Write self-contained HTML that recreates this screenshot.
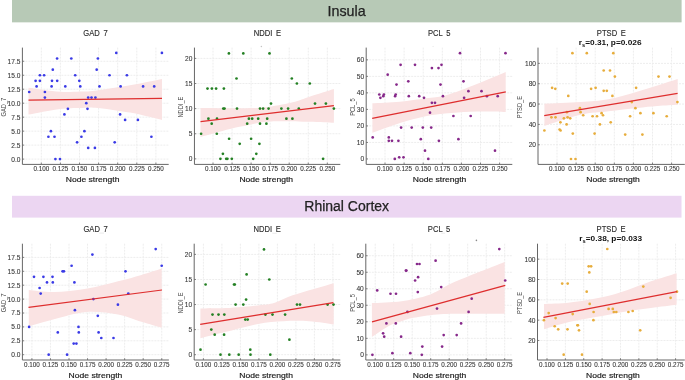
<!DOCTYPE html>
<html><head><meta charset="utf-8"><title>Node strength correlations</title>
<style>
html,body{margin:0;padding:0;background:#fff;width:685px;height:380px;overflow:hidden}
svg{display:block;will-change:transform}
text{font-family:"Liberation Sans", sans-serif}
</style></head><body>
<svg width="685" height="380" viewBox="0 0 685 380">
<rect x="12" y="0" width="669.6" height="22.35" fill="#b7c9b6"/>
<text transform="translate(346.6,15.8) scale(1,1)" text-anchor="middle" font-size="14.3" fill="#222" stroke="#222" stroke-width="0.25">Insula</text>
<rect x="12" y="195.8" width="669.5" height="21.8" fill="#ecd6f2"/>
<text transform="translate(346.7,211.1) scale(1,1)" text-anchor="middle" font-size="14" fill="#222" stroke="#222" stroke-width="0.25">Rhinal Cortex</text>
<path d="M41.3,47.6V164.4M60.4,47.6V164.4M79.5,47.6V164.4M98.6,47.6V164.4M117.7,47.6V164.4M136.8,47.6V164.4M155.9,47.6V164.4M22.4,159.1H168.7M22.4,145.12H168.7M22.4,131.15H168.7M22.4,117.17H168.7M22.4,103.2H168.7M22.4,89.22H168.7M22.4,75.25H168.7M22.4,61.27H168.7" stroke="#ededed" stroke-width="1.0" stroke-dasharray="2,1" fill="none"/>
<path d="M28.5,87.7 C33.75,88.38 51.42,91.17 60,91.8 C68.58,92.43 74.17,91.68 80,91.5 C85.83,91.32 86.67,91.73 95,90.7 C103.33,89.67 118.83,87.27 130,85.3 C141.17,83.33 156.67,79.97 162,78.9 L162,120 C156.67,118.77 141.17,114.65 130,112.6 C118.83,110.55 103.33,108.47 95,107.7 C86.67,106.93 85.83,107.78 80,108 C74.17,108.22 68.58,107.9 60,109 C51.42,110.1 33.75,113.67 28.5,114.6 Z" fill="#fae3e3"/>
<g fill="#3a3ae6"><circle cx="29.2" cy="92.02" r="1.35"/><circle cx="35.6" cy="80.84" r="1.35"/><circle cx="36.6" cy="86.43" r="1.35"/><circle cx="39.9" cy="75.25" r="1.35"/><circle cx="39.9" cy="80.84" r="1.35"/><circle cx="44.1" cy="75.25" r="1.35"/><circle cx="44.9" cy="92.02" r="1.35"/><circle cx="44.9" cy="97.61" r="1.35"/><circle cx="51.6" cy="86.43" r="1.35"/><circle cx="52" cy="80.84" r="1.35"/><circle cx="52.8" cy="69.66" r="1.35"/><circle cx="57.1" cy="58.48" r="1.35"/><circle cx="57.2" cy="80.84" r="1.35"/><circle cx="65.3" cy="86.43" r="1.35"/><circle cx="71.3" cy="58.48" r="1.35"/><circle cx="75.2" cy="75.25" r="1.35"/><circle cx="79.3" cy="80.84" r="1.35"/><circle cx="80.3" cy="86.43" r="1.35"/><circle cx="86.3" cy="103.2" r="1.35"/><circle cx="88.2" cy="97.61" r="1.35"/><circle cx="91.5" cy="97.61" r="1.35"/><circle cx="95.4" cy="97.61" r="1.35"/><circle cx="96.7" cy="69.66" r="1.35"/><circle cx="97.9" cy="58.48" r="1.35"/><circle cx="99.5" cy="86.43" r="1.35"/><circle cx="116.3" cy="52.89" r="1.35"/><circle cx="109.5" cy="75.25" r="1.35"/><circle cx="126.9" cy="75.25" r="1.35"/><circle cx="120.6" cy="86.43" r="1.35"/><circle cx="143.1" cy="86.43" r="1.35"/><circle cx="154.2" cy="86.43" r="1.35"/><circle cx="161.9" cy="52.89" r="1.35"/><circle cx="87.5" cy="108.79" r="1.35"/><circle cx="67.9" cy="108.79" r="1.35"/><circle cx="64.4" cy="114.38" r="1.35"/><circle cx="50.9" cy="131.15" r="1.35"/><circle cx="48.4" cy="136.74" r="1.35"/><circle cx="54.5" cy="136.74" r="1.35"/><circle cx="84.4" cy="131.15" r="1.35"/><circle cx="81.4" cy="136.74" r="1.35"/><circle cx="77.1" cy="142.33" r="1.35"/><circle cx="88.2" cy="147.92" r="1.35"/><circle cx="94.9" cy="147.92" r="1.35"/><circle cx="55.4" cy="159.1" r="1.35"/><circle cx="60" cy="159.1" r="1.35"/><circle cx="120.1" cy="114.38" r="1.35"/><circle cx="125.1" cy="119.97" r="1.35"/><circle cx="137.9" cy="119.97" r="1.35"/><circle cx="114.7" cy="142.33" r="1.35"/><circle cx="151.4" cy="136.74" r="1.35"/></g>
<path d="M28.5,100.1L162,98.3" stroke="#de2e2e" stroke-width="1.25" fill="none"/>
<path d="M22.4,47.6V164.4H168.7" stroke="#666" stroke-width="1.0" fill="none"/>
<path d="M41.3,164.4v-1.8M60.4,164.4v-1.8M79.5,164.4v-1.8M98.6,164.4v-1.8M117.7,164.4v-1.8M136.8,164.4v-1.8M155.9,164.4v-1.8M22.4,159.1h1.8M22.4,145.12h1.8M22.4,131.15h1.8M22.4,117.17h1.8M22.4,103.2h1.8M22.4,89.22h1.8M22.4,75.25h1.8M22.4,61.27h1.8" stroke="#666" stroke-width="0.8" fill="none"/>
<g font-size="6.3" fill="#333" stroke="#333" stroke-width="0.08" text-anchor="middle"><text x="41.3" y="170.7">0.100</text><text x="60.4" y="170.7">0.125</text><text x="79.5" y="170.7">0.150</text><text x="98.6" y="170.7">0.175</text><text x="117.7" y="170.7">0.200</text><text x="136.8" y="170.7">0.225</text><text x="155.9" y="170.7">0.250</text></g>
<g font-size="6.6" fill="#333" stroke="#333" stroke-width="0.08" text-anchor="end"><text x="20.4" y="161.55">0.0</text><text x="20.4" y="147.57">2.5</text><text x="20.4" y="133.6">5.0</text><text x="20.4" y="119.62">7.5</text><text x="20.4" y="105.65">10.0</text><text x="20.4" y="91.67">12.5</text><text x="20.4" y="77.7">15.0</text><text x="20.4" y="63.72">17.5</text></g>
<text transform="translate(92.6,182.1) scale(1.07,1)" text-anchor="middle" font-size="8.0" fill="#1a1a1a" stroke="#1a1a1a" stroke-width="0.18">Node strength</text>
<text transform="translate(95.55,35.6) scale(0.93,1)" text-anchor="middle" font-size="8.2" fill="#2a2a2a" stroke="#2a2a2a" stroke-width="0.12" word-spacing="-0.3" style="white-space:pre">GAD  7</text>
<text transform="translate(5.9,107.1) rotate(-90) scale(0.82,1)" text-anchor="middle" font-size="7.0" fill="#444">GAD_7</text>
<path d="M213,47.6V164.4M232.05,47.6V164.4M251.1,47.6V164.4M270.15,47.6V164.4M289.2,47.6V164.4M308.25,47.6V164.4M327.3,47.6V164.4M194.45,158.85H340.3M194.45,133.74H340.3M194.45,108.62H340.3M194.45,83.51H340.3M194.45,58.4H340.3" stroke="#ededed" stroke-width="1.0" stroke-dasharray="2,1" fill="none"/>
<path d="M200.5,108 C205.42,108.03 220.92,108.2 230,108.2 C239.08,108.2 248.67,108.2 255,108 C261.33,107.8 263.5,107.58 268,107 C272.5,106.42 277.5,105.38 282,104.5 C286.5,103.62 290.42,103 295,101.7 C299.58,100.4 303.02,98.82 309.5,96.7 C315.98,94.58 329.83,90.28 333.9,89 L333.9,122.8 C329.92,122.63 318.65,122.07 310,121.8 C301.35,121.53 289.33,121.2 282,121.2 C274.67,121.2 271.33,121.2 266,121.8 C260.67,122.4 256,123.6 250,124.8 C244,126 238.25,126.97 230,129 C221.75,131.03 205.42,135.67 200.5,137 Z" fill="#fae3e3"/>
<g fill="#238023"><circle cx="228.9" cy="53.38" r="1.35"/><circle cx="243.3" cy="53.38" r="1.35"/><circle cx="269.5" cy="53.38" r="1.35"/><circle cx="236.5" cy="78.49" r="1.35"/><circle cx="207.5" cy="88.53" r="1.35"/><circle cx="211.9" cy="88.53" r="1.35"/><circle cx="216.1" cy="88.53" r="1.35"/><circle cx="223.9" cy="88.53" r="1.35"/><circle cx="271" cy="103.6" r="1.35"/><circle cx="291.8" cy="78.49" r="1.35"/><circle cx="296.9" cy="83.51" r="1.35"/><circle cx="309.8" cy="83.51" r="1.35"/><circle cx="315" cy="103.6" r="1.35"/><circle cx="325.9" cy="103.6" r="1.35"/><circle cx="223.3" cy="108.62" r="1.35"/><circle cx="224.5" cy="108.62" r="1.35"/><circle cx="237" cy="108.62" r="1.35"/><circle cx="260" cy="108.62" r="1.35"/><circle cx="263.1" cy="108.62" r="1.35"/><circle cx="268.6" cy="108.62" r="1.35"/><circle cx="208.4" cy="118.67" r="1.35"/><circle cx="217" cy="118.67" r="1.35"/><circle cx="248.9" cy="118.67" r="1.35"/><circle cx="252.2" cy="118.67" r="1.35"/><circle cx="258.2" cy="118.67" r="1.35"/><circle cx="267.2" cy="118.67" r="1.35"/><circle cx="211.7" cy="123.69" r="1.35"/><circle cx="247.2" cy="123.69" r="1.35"/><circle cx="260" cy="123.69" r="1.35"/><circle cx="266.4" cy="123.69" r="1.35"/><circle cx="201.1" cy="133.74" r="1.35"/><circle cx="216.8" cy="133.74" r="1.35"/><circle cx="229.1" cy="138.76" r="1.35"/><circle cx="251.1" cy="138.76" r="1.35"/><circle cx="239.7" cy="143.78" r="1.35"/><circle cx="259.4" cy="143.78" r="1.35"/><circle cx="222.9" cy="153.83" r="1.35"/><circle cx="256.3" cy="153.83" r="1.35"/><circle cx="220.4" cy="158.85" r="1.35"/><circle cx="226.2" cy="158.85" r="1.35"/><circle cx="227.4" cy="158.85" r="1.35"/><circle cx="231.8" cy="158.85" r="1.35"/><circle cx="253.2" cy="158.85" r="1.35"/><circle cx="281.4" cy="108.62" r="1.35"/><circle cx="288.1" cy="108.62" r="1.35"/><circle cx="298.8" cy="108.62" r="1.35"/><circle cx="333.9" cy="108.62" r="1.35"/><circle cx="286.4" cy="118.67" r="1.35"/><circle cx="292.4" cy="118.67" r="1.35"/><circle cx="323.1" cy="158.85" r="1.35"/></g>
<path d="M200.5,121.7L333.9,105.6" stroke="#de2e2e" stroke-width="1.25" fill="none"/>
<path d="M194.45,47.6V164.4H340.3" stroke="#666" stroke-width="1.0" fill="none"/>
<path d="M213,164.4v-1.8M232.05,164.4v-1.8M251.1,164.4v-1.8M270.15,164.4v-1.8M289.2,164.4v-1.8M308.25,164.4v-1.8M327.3,164.4v-1.8M194.45,158.85h1.8M194.45,133.74h1.8M194.45,108.62h1.8M194.45,83.51h1.8M194.45,58.4h1.8" stroke="#666" stroke-width="0.8" fill="none"/>
<g font-size="6.3" fill="#333" stroke="#333" stroke-width="0.08" text-anchor="middle"><text x="213" y="170.7">0.100</text><text x="232.05" y="170.7">0.125</text><text x="251.1" y="170.7">0.150</text><text x="270.15" y="170.7">0.175</text><text x="289.2" y="170.7">0.200</text><text x="308.25" y="170.7">0.225</text><text x="327.3" y="170.7">0.250</text></g>
<g font-size="6.6" fill="#333" stroke="#333" stroke-width="0.08" text-anchor="end"><text x="192.45" y="161.3">0</text><text x="192.45" y="136.19">5</text><text x="192.45" y="111.08">10</text><text x="192.45" y="85.96">15</text><text x="192.45" y="60.85">20</text></g>
<text transform="translate(266.25,182.1) scale(1.07,1)" text-anchor="middle" font-size="8.0" fill="#1a1a1a" stroke="#1a1a1a" stroke-width="0.18">Node strength</text>
<text transform="translate(267.38,35.6) scale(0.93,1)" text-anchor="middle" font-size="8.2" fill="#2a2a2a" stroke="#2a2a2a" stroke-width="0.12" word-spacing="-0.3" style="white-space:pre">NDDI  E</text>
<text transform="translate(182.5,107.1) rotate(-90) scale(0.82,1)" text-anchor="middle" font-size="7.0" fill="#444">NDDI_E</text>
<path d="M385,47.6V164.4M404.1,47.6V164.4M423.2,47.6V164.4M442.3,47.6V164.4M461.4,47.6V164.4M480.5,47.6V164.4M499.6,47.6V164.4M366.2,158.95H512.3M366.2,142.43H512.3M366.2,125.91H512.3M366.2,109.39H512.3M366.2,92.87H512.3M366.2,76.35H512.3M366.2,59.83H512.3" stroke="#ededed" stroke-width="1.0" stroke-dasharray="2,1" fill="none"/>
<path d="M372.4,103.3 C377,103.05 391.12,102.63 400,101.8 C408.88,100.97 418.03,99.38 425.7,98.3 C433.37,97.22 437.47,97.68 446,95.3 C454.53,92.92 466.95,87.88 476.9,84 C486.85,80.12 500.9,74 505.7,72 L505.7,111.9 C500.9,111.83 485.97,111.32 476.9,111.5 C467.83,111.68 459.83,112.22 451.3,113 C442.77,113.78 434.25,114.53 425.7,116.2 C417.15,117.87 408.88,120.23 400,123 C391.12,125.77 377,131.17 372.4,132.8 Z" fill="#fae3e3"/>
<g fill="#86288a"><circle cx="400.6" cy="64.79" r="1.35"/><circle cx="415" cy="64.79" r="1.35"/><circle cx="431.9" cy="68.09" r="1.35"/><circle cx="438.5" cy="68.09" r="1.35"/><circle cx="441.5" cy="64.79" r="1.35"/><circle cx="387.7" cy="74.7" r="1.35"/><circle cx="408.3" cy="81.31" r="1.35"/><circle cx="396.5" cy="84.61" r="1.35"/><circle cx="440.5" cy="84.61" r="1.35"/><circle cx="379.3" cy="94.52" r="1.35"/><circle cx="380.4" cy="97.83" r="1.35"/><circle cx="383.3" cy="96.17" r="1.35"/><circle cx="383.9" cy="94.52" r="1.35"/><circle cx="395.1" cy="96.17" r="1.35"/><circle cx="395.7" cy="94.52" r="1.35"/><circle cx="408.8" cy="96.17" r="1.35"/><circle cx="419.2" cy="96.17" r="1.35"/><circle cx="424" cy="97.83" r="1.35"/><circle cx="431.9" cy="102.78" r="1.35"/><circle cx="435" cy="102.78" r="1.35"/><circle cx="442.9" cy="96.17" r="1.35"/><circle cx="460" cy="53.22" r="1.35"/><circle cx="505.5" cy="53.22" r="1.35"/><circle cx="463.5" cy="81.31" r="1.35"/><circle cx="468.4" cy="91.22" r="1.35"/><circle cx="481.5" cy="91.22" r="1.35"/><circle cx="464.1" cy="97.83" r="1.35"/><circle cx="486.9" cy="96.17" r="1.35"/><circle cx="497.7" cy="96.17" r="1.35"/><circle cx="430" cy="112.69" r="1.35"/><circle cx="401.1" cy="127.56" r="1.35"/><circle cx="411.7" cy="127.56" r="1.35"/><circle cx="422.8" cy="127.56" r="1.35"/><circle cx="431.2" cy="127.56" r="1.35"/><circle cx="372.7" cy="137.47" r="1.35"/><circle cx="388.8" cy="137.47" r="1.35"/><circle cx="388.8" cy="140.78" r="1.35"/><circle cx="392" cy="140.78" r="1.35"/><circle cx="398.4" cy="140.78" r="1.35"/><circle cx="420.8" cy="139.13" r="1.35"/><circle cx="438.9" cy="140.78" r="1.35"/><circle cx="425" cy="150.69" r="1.35"/><circle cx="399.2" cy="157.3" r="1.35"/><circle cx="403.5" cy="157.3" r="1.35"/><circle cx="394.8" cy="158.95" r="1.35"/><circle cx="428.3" cy="158.95" r="1.35"/><circle cx="453.4" cy="116" r="1.35"/><circle cx="470.7" cy="116" r="1.35"/><circle cx="458.4" cy="139.13" r="1.35"/><circle cx="495" cy="150.69" r="1.35"/></g>
<path d="M372.2,118.3L505.8,91.8" stroke="#de2e2e" stroke-width="1.25" fill="none"/>
<path d="M366.2,47.6V164.4H512.3" stroke="#666" stroke-width="1.0" fill="none"/>
<path d="M385,164.4v-1.8M404.1,164.4v-1.8M423.2,164.4v-1.8M442.3,164.4v-1.8M461.4,164.4v-1.8M480.5,164.4v-1.8M499.6,164.4v-1.8M366.2,158.95h1.8M366.2,142.43h1.8M366.2,125.91h1.8M366.2,109.39h1.8M366.2,92.87h1.8M366.2,76.35h1.8M366.2,59.83h1.8" stroke="#666" stroke-width="0.8" fill="none"/>
<g font-size="6.3" fill="#333" stroke="#333" stroke-width="0.08" text-anchor="middle"><text x="385" y="170.7">0.100</text><text x="404.1" y="170.7">0.125</text><text x="423.2" y="170.7">0.150</text><text x="442.3" y="170.7">0.175</text><text x="461.4" y="170.7">0.200</text><text x="480.5" y="170.7">0.225</text><text x="499.6" y="170.7">0.250</text></g>
<g font-size="6.6" fill="#333" stroke="#333" stroke-width="0.08" text-anchor="end"><text x="364.2" y="161.4">0</text><text x="364.2" y="144.88">10</text><text x="364.2" y="128.36">20</text><text x="364.2" y="111.84">30</text><text x="364.2" y="95.32">40</text><text x="364.2" y="78.8">50</text><text x="364.2" y="62.28">60</text></g>
<text transform="translate(439.55,182.1) scale(1.07,1)" text-anchor="middle" font-size="8.0" fill="#1a1a1a" stroke="#1a1a1a" stroke-width="0.18">Node strength</text>
<text transform="translate(439.25,35.6) scale(0.93,1)" text-anchor="middle" font-size="8.2" fill="#2a2a2a" stroke="#2a2a2a" stroke-width="0.12" word-spacing="-0.3" style="white-space:pre">PCL  5</text>
<text transform="translate(354.5,107.1) rotate(-90) scale(0.82,1)" text-anchor="middle" font-size="7.0" fill="#444">PCL_5</text>
<path d="M557,47.6V164.4M576.1,47.6V164.4M595.2,47.6V164.4M614.3,47.6V164.4M633.4,47.6V164.4M652.5,47.6V164.4M671.6,47.6V164.4M538,144.75H684.8M538,124.41H684.8M538,104.06H684.8M538,83.72H684.8M538,63.37H684.8" stroke="#ededed" stroke-width="1.0" stroke-dasharray="2,1" fill="none"/>
<path d="M544.4,103.7 C550.43,103.42 569.93,102.73 580.6,102 C591.27,101.27 599,101.02 608.4,99.3 C617.8,97.58 628.83,94 637,91.7 C645.17,89.4 650.62,87.62 657.4,85.5 C664.18,83.38 674.32,80.08 677.7,79 L677.7,104.8 C674.32,105 664.18,105.47 657.4,106 C650.62,106.53 645.17,107.12 637,108 C628.83,108.88 617.8,110.17 608.4,111.3 C599,112.43 591.27,112.37 580.6,114.8 C569.93,117.23 550.43,124.05 544.4,125.9 Z" fill="#fae3e3"/>
<g fill="#e7ad3c"><circle cx="572.4" cy="53.2" r="1.35"/><circle cx="586.8" cy="53.2" r="1.35"/><circle cx="613.3" cy="53.2" r="1.35"/><circle cx="603.7" cy="70.49" r="1.35"/><circle cx="610" cy="70.49" r="1.35"/><circle cx="614.9" cy="76.59" r="1.35"/><circle cx="552.1" cy="87.79" r="1.35"/><circle cx="555.3" cy="88.8" r="1.35"/><circle cx="591.1" cy="88.8" r="1.35"/><circle cx="595.6" cy="87.79" r="1.35"/><circle cx="603.7" cy="90.84" r="1.35"/><circle cx="606.8" cy="90.84" r="1.35"/><circle cx="568.3" cy="95.92" r="1.35"/><circle cx="612.4" cy="95.92" r="1.35"/><circle cx="658.5" cy="76.59" r="1.35"/><circle cx="669.5" cy="76.59" r="1.35"/><circle cx="636.1" cy="87.79" r="1.35"/><circle cx="631.8" cy="102.03" r="1.35"/><circle cx="677.4" cy="102.03" r="1.35"/><circle cx="579.9" cy="108.13" r="1.35"/><circle cx="566.9" cy="112.2" r="1.35"/><circle cx="580.6" cy="112.2" r="1.35"/><circle cx="583.2" cy="115.25" r="1.35"/><circle cx="551.4" cy="117.29" r="1.35"/><circle cx="555.5" cy="117.29" r="1.35"/><circle cx="567.6" cy="117.29" r="1.35"/><circle cx="563.9" cy="118.3" r="1.35"/><circle cx="570.2" cy="118.3" r="1.35"/><circle cx="592.6" cy="116.27" r="1.35"/><circle cx="597" cy="116.27" r="1.35"/><circle cx="601.6" cy="113.22" r="1.35"/><circle cx="603" cy="115.25" r="1.35"/><circle cx="560.4" cy="122.37" r="1.35"/><circle cx="566.6" cy="124.41" r="1.35"/><circle cx="599.9" cy="124.41" r="1.35"/><circle cx="610.7" cy="122.37" r="1.35"/><circle cx="544.4" cy="130.51" r="1.35"/><circle cx="559.6" cy="129.49" r="1.35"/><circle cx="560.6" cy="130.51" r="1.35"/><circle cx="572.8" cy="133.56" r="1.35"/><circle cx="594.6" cy="133.56" r="1.35"/><circle cx="571" cy="159" r="1.35"/><circle cx="575.5" cy="159" r="1.35"/><circle cx="635.4" cy="108.13" r="1.35"/><circle cx="640.4" cy="113.22" r="1.35"/><circle cx="653.4" cy="113.22" r="1.35"/><circle cx="630.1" cy="116.27" r="1.35"/><circle cx="666.7" cy="116.27" r="1.35"/><circle cx="625.2" cy="134.58" r="1.35"/><circle cx="642.4" cy="134.58" r="1.35"/></g>
<path d="M544.2,115.7L677.6,93.4" stroke="#de2e2e" stroke-width="1.25" fill="none"/>
<path d="M538,47.6V164.4H684.8" stroke="#666" stroke-width="1.0" fill="none"/>
<path d="M557,164.4v-1.8M576.1,164.4v-1.8M595.2,164.4v-1.8M614.3,164.4v-1.8M633.4,164.4v-1.8M652.5,164.4v-1.8M671.6,164.4v-1.8M538,144.75h1.8M538,124.41h1.8M538,104.06h1.8M538,83.72h1.8M538,63.37h1.8" stroke="#666" stroke-width="0.8" fill="none"/>
<g font-size="6.3" fill="#333" stroke="#333" stroke-width="0.08" text-anchor="middle"><text x="557" y="170.7">0.100</text><text x="576.1" y="170.7">0.125</text><text x="595.2" y="170.7">0.150</text><text x="614.3" y="170.7">0.175</text><text x="633.4" y="170.7">0.200</text><text x="652.5" y="170.7">0.225</text><text x="671.6" y="170.7">0.250</text></g>
<g font-size="6.6" fill="#333" stroke="#333" stroke-width="0.08" text-anchor="end"><text x="536" y="147.2">20</text><text x="536" y="126.86">40</text><text x="536" y="106.51">60</text><text x="536" y="86.17">80</text><text x="536" y="65.82">100</text></g>
<text transform="translate(613.05,182.1) scale(1.07,1)" text-anchor="middle" font-size="8.0" fill="#1a1a1a" stroke="#1a1a1a" stroke-width="0.18">Node strength</text>
<text transform="translate(611.4,35.6) scale(0.93,1)" text-anchor="middle" font-size="8.2" fill="#2a2a2a" stroke="#2a2a2a" stroke-width="0.12" word-spacing="-0.3" style="white-space:pre">PTSD  E</text>
<text transform="translate(610.15,44.8) scale(1.08,1)" text-anchor="middle" font-size="7.7" font-weight="bold" fill="#111">r<tspan font-size="5.24" dy="2.1">s</tspan><tspan dy="-2.1">=0.31, p=0.026</tspan></text>
<text transform="translate(522.3,107.1) rotate(-90) scale(0.82,1)" text-anchor="middle" font-size="7.0" fill="#444">PTSD_E</text>
<path d="M31.9,243.7V360M50.45,243.7V360M69,243.7V360M87.55,243.7V360M106.1,243.7V360M124.65,243.7V360M143.2,243.7V360M161.75,243.7V360M22.4,354.7H168.9M22.4,340.8H168.9M22.4,326.9H168.9M22.4,313H168.9M22.4,299.1H168.9M22.4,285.2H168.9M22.4,271.3H168.9M22.4,257.4H168.9" stroke="#ededed" stroke-width="1.0" stroke-dasharray="2,1" fill="none"/>
<path d="M28.8,289.9 C33,290.25 44.47,292.18 54,292 C63.53,291.82 75.33,290.58 86,288.8 C96.67,287.02 108.77,283.62 118,281.3 C127.23,278.98 134.12,277.03 141.4,274.9 C148.68,272.77 158.32,269.57 161.7,268.5 L161.7,327.8 C158.32,326.8 148.68,324.03 141.4,321.8 C134.12,319.57 127.23,316.03 118,314.4 C108.77,312.77 96.67,311.18 86,312 C75.33,312.82 63.53,316.92 54,319.3 C44.47,321.68 33,325.13 28.8,326.3 Z" fill="#fae3e3"/>
<g fill="#3a3ae6"><circle cx="92.4" cy="254.62" r="1.35"/><circle cx="71.6" cy="265.74" r="1.35"/><circle cx="62.6" cy="271.3" r="1.35"/><circle cx="63.9" cy="271.3" r="1.35"/><circle cx="34" cy="276.86" r="1.35"/><circle cx="43.4" cy="276.86" r="1.35"/><circle cx="52.5" cy="276.86" r="1.35"/><circle cx="47" cy="282.42" r="1.35"/><circle cx="52.8" cy="282.42" r="1.35"/><circle cx="74.4" cy="282.42" r="1.35"/><circle cx="39.6" cy="287.98" r="1.35"/><circle cx="40.7" cy="293.54" r="1.35"/><circle cx="93.4" cy="299.1" r="1.35"/><circle cx="48.7" cy="354.7" r="1.35"/><circle cx="67.1" cy="354.7" r="1.35"/><circle cx="73.7" cy="343.58" r="1.35"/><circle cx="76.4" cy="343.58" r="1.35"/><circle cx="155.7" cy="249.06" r="1.35"/><circle cx="161.7" cy="265.74" r="1.35"/><circle cx="125.5" cy="271.3" r="1.35"/><circle cx="128.3" cy="293.54" r="1.35"/><circle cx="74.9" cy="310.22" r="1.35"/><circle cx="97.8" cy="315.78" r="1.35"/><circle cx="29.1" cy="326.9" r="1.35"/><circle cx="78.5" cy="326.9" r="1.35"/><circle cx="57.8" cy="332.46" r="1.35"/><circle cx="78.8" cy="332.46" r="1.35"/><circle cx="98.6" cy="332.46" r="1.35"/><circle cx="117.9" cy="304.66" r="1.35"/><circle cx="101.3" cy="338.02" r="1.35"/><circle cx="113.5" cy="338.02" r="1.35"/></g>
<path d="M28.5,307.3L162,290" stroke="#de2e2e" stroke-width="1.25" fill="none"/>
<path d="M22.4,243.7V360H168.9" stroke="#666" stroke-width="1.0" fill="none"/>
<path d="M31.9,360v-1.8M50.45,360v-1.8M69,360v-1.8M87.55,360v-1.8M106.1,360v-1.8M124.65,360v-1.8M143.2,360v-1.8M161.75,360v-1.8M22.4,354.7h1.8M22.4,340.8h1.8M22.4,326.9h1.8M22.4,313h1.8M22.4,299.1h1.8M22.4,285.2h1.8M22.4,271.3h1.8M22.4,257.4h1.8" stroke="#666" stroke-width="0.8" fill="none"/>
<g font-size="6.3" fill="#333" stroke="#333" stroke-width="0.08" text-anchor="middle"><text x="31.9" y="367">0.100</text><text x="50.45" y="367">0.125</text><text x="69" y="367">0.150</text><text x="87.55" y="367">0.175</text><text x="106.1" y="367">0.200</text><text x="124.65" y="367">0.225</text><text x="143.2" y="367">0.250</text><text x="161.75" y="367">0.275</text></g>
<g font-size="6.6" fill="#333" stroke="#333" stroke-width="0.08" text-anchor="end"><text x="20.4" y="357.15">0.0</text><text x="20.4" y="343.25">2.5</text><text x="20.4" y="329.35">5.0</text><text x="20.4" y="315.45">7.5</text><text x="20.4" y="301.55">10.0</text><text x="20.4" y="287.65">12.5</text><text x="20.4" y="273.75">15.0</text><text x="20.4" y="259.85">17.5</text></g>
<text transform="translate(95.45,377.7) scale(1.07,1)" text-anchor="middle" font-size="8.0" fill="#1a1a1a" stroke="#1a1a1a" stroke-width="0.18">Node strength</text>
<text transform="translate(95.65,231.7) scale(0.93,1)" text-anchor="middle" font-size="8.2" fill="#2a2a2a" stroke="#2a2a2a" stroke-width="0.12" word-spacing="-0.3" style="white-space:pre">GAD  7</text>
<text transform="translate(5.9,302.95) rotate(-90) scale(0.82,1)" text-anchor="middle" font-size="7.0" fill="#444">GAD_7</text>
<path d="M203.4,243.7V360M221.9,243.7V360M240.4,243.7V360M258.9,243.7V360M277.4,243.7V360M295.9,243.7V360M314.4,243.7V360M332.9,243.7V360M194.2,354.7H340.3M194.2,329.62H340.3M194.2,304.55H340.3M194.2,279.48H340.3M194.2,254.4H340.3" stroke="#ededed" stroke-width="1.0" stroke-dasharray="2,1" fill="none"/>
<path d="M200.4,308.4 C204.67,308.33 216.4,308.5 226,308 C235.6,307.5 250,306.23 258,305.4 C266,304.57 269,304.4 274,303 C279,301.6 282.15,299.12 288,297 C293.85,294.88 301.48,292.6 309.1,290.3 C316.72,288 329.6,284.38 333.7,283.2 L333.7,324.4 C329.6,323.87 317.45,321.73 309.1,321.2 C300.75,320.67 292.12,320.75 283.6,321.2 C275.08,321.65 267.6,322.13 258,323.9 C248.4,325.67 235.6,329.42 226,331.8 C216.4,334.18 204.67,337.13 200.4,338.2 Z" fill="#fae3e3"/>
<g fill="#238023"><circle cx="264" cy="249.38" r="1.35"/><circle cx="246.6" cy="274.46" r="1.35"/><circle cx="269.3" cy="279.48" r="1.35"/><circle cx="205.6" cy="284.49" r="1.35"/><circle cx="234" cy="284.49" r="1.35"/><circle cx="234.8" cy="284.49" r="1.35"/><circle cx="246.1" cy="299.53" r="1.35"/><circle cx="235.6" cy="304.55" r="1.35"/><circle cx="243.3" cy="304.55" r="1.35"/><circle cx="212.5" cy="314.58" r="1.35"/><circle cx="218.5" cy="314.58" r="1.35"/><circle cx="224.3" cy="314.58" r="1.35"/><circle cx="265.4" cy="314.58" r="1.35"/><circle cx="272.5" cy="314.58" r="1.35"/><circle cx="285.1" cy="314.58" r="1.35"/><circle cx="245.3" cy="319.59" r="1.35"/><circle cx="247.7" cy="319.59" r="1.35"/><circle cx="211.3" cy="329.62" r="1.35"/><circle cx="214.7" cy="334.64" r="1.35"/><circle cx="224.1" cy="334.64" r="1.35"/><circle cx="200.5" cy="349.69" r="1.35"/><circle cx="250.3" cy="349.69" r="1.35"/><circle cx="220.5" cy="354.7" r="1.35"/><circle cx="229.3" cy="354.7" r="1.35"/><circle cx="238.7" cy="354.7" r="1.35"/><circle cx="250.5" cy="354.7" r="1.35"/><circle cx="270.3" cy="354.7" r="1.35"/><circle cx="297" cy="304.55" r="1.35"/><circle cx="300" cy="304.55" r="1.35"/><circle cx="327.6" cy="304.55" r="1.35"/><circle cx="333.5" cy="304.55" r="1.35"/><circle cx="289.4" cy="339.65" r="1.35"/></g>
<path d="M200.2,324.4L333.4,302.7" stroke="#de2e2e" stroke-width="1.25" fill="none"/>
<path d="M194.2,243.7V360H340.3" stroke="#666" stroke-width="1.0" fill="none"/>
<path d="M203.4,360v-1.8M221.9,360v-1.8M240.4,360v-1.8M258.9,360v-1.8M277.4,360v-1.8M295.9,360v-1.8M314.4,360v-1.8M332.9,360v-1.8M194.2,354.7h1.8M194.2,329.62h1.8M194.2,304.55h1.8M194.2,279.48h1.8M194.2,254.4h1.8" stroke="#666" stroke-width="0.8" fill="none"/>
<g font-size="6.3" fill="#333" stroke="#333" stroke-width="0.08" text-anchor="middle"><text x="203.4" y="367">0.100</text><text x="221.9" y="367">0.125</text><text x="240.4" y="367">0.150</text><text x="258.9" y="367">0.175</text><text x="277.4" y="367">0.200</text><text x="295.9" y="367">0.225</text><text x="314.4" y="367">0.250</text><text x="332.9" y="367">0.275</text></g>
<g font-size="6.6" fill="#333" stroke="#333" stroke-width="0.08" text-anchor="end"><text x="192.2" y="357.15">0</text><text x="192.2" y="332.07">5</text><text x="192.2" y="307">10</text><text x="192.2" y="281.93">15</text><text x="192.2" y="256.85">20</text></g>
<text transform="translate(266.1,377.7) scale(1.07,1)" text-anchor="middle" font-size="8.0" fill="#1a1a1a" stroke="#1a1a1a" stroke-width="0.18">Node strength</text>
<text transform="translate(267.25,231.7) scale(0.93,1)" text-anchor="middle" font-size="8.2" fill="#2a2a2a" stroke="#2a2a2a" stroke-width="0.12" word-spacing="-0.3" style="white-space:pre">NDDI  E</text>
<text transform="translate(182.5,302.95) rotate(-90) scale(0.82,1)" text-anchor="middle" font-size="7.0" fill="#444">NDDI_E</text>
<path d="M375.2,243.7V360M393.7,243.7V360M412.2,243.7V360M430.7,243.7V360M449.2,243.7V360M467.7,243.7V360M486.2,243.7V360M504.7,243.7V360M365.8,354.85H512.3M365.8,338.33H512.3M365.8,321.81H512.3M365.8,305.29H512.3M365.8,288.77H512.3M365.8,272.25H512.3M365.8,255.73H512.3" stroke="#ededed" stroke-width="1.0" stroke-dasharray="2,1" fill="none"/>
<path d="M371.9,303.1 C376.85,302.78 392.75,302.35 401.6,301.2 C410.45,300.05 419.08,297.85 425,296.2 C430.92,294.55 433.1,293.25 437.1,291.3 C441.1,289.35 444.27,286.8 449,284.5 C453.73,282.2 456.22,281.23 465.5,277.5 C474.78,273.77 498.17,264.67 504.7,262.1 L504.7,313.8 C498.17,313.8 476.77,313.7 465.5,313.8 C454.23,313.9 445.78,313.73 437.1,314.4 C428.42,315.07 419.32,316.67 413.4,317.8 C407.48,318.93 405.57,319.92 401.6,321.2 C397.63,322.48 394.55,322.87 389.6,325.5 C384.65,328.13 374.85,335.08 371.9,337 Z" fill="#fae3e3"/>
<g fill="#86288a"><circle cx="377.2" cy="290.42" r="1.35"/><circle cx="390.5" cy="293.73" r="1.35"/><circle cx="396" cy="293.73" r="1.35"/><circle cx="406.4" cy="270.6" r="1.35"/><circle cx="417" cy="263.99" r="1.35"/><circle cx="419.5" cy="263.99" r="1.35"/><circle cx="418.1" cy="277.21" r="1.35"/><circle cx="415.1" cy="280.51" r="1.35"/><circle cx="417.8" cy="292.07" r="1.35"/><circle cx="435.6" cy="260.69" r="1.35"/><circle cx="441.2" cy="287.12" r="1.35"/><circle cx="499.3" cy="249.12" r="1.35"/><circle cx="505.2" cy="280.51" r="1.35"/><circle cx="471.7" cy="298.68" r="1.35"/><circle cx="407.4" cy="311.9" r="1.35"/><circle cx="437" cy="308.59" r="1.35"/><circle cx="386.4" cy="323.46" r="1.35"/><circle cx="395.8" cy="323.46" r="1.35"/><circle cx="383.1" cy="333.37" r="1.35"/><circle cx="384.2" cy="336.68" r="1.35"/><circle cx="401.1" cy="336.68" r="1.35"/><circle cx="443.7" cy="335.03" r="1.35"/><circle cx="422.3" cy="346.59" r="1.35"/><circle cx="442.1" cy="346.59" r="1.35"/><circle cx="392.4" cy="353.2" r="1.35"/><circle cx="410.3" cy="353.2" r="1.35"/><circle cx="372.4" cy="354.85" r="1.35"/><circle cx="421.8" cy="354.85" r="1.35"/><circle cx="468.6" cy="311.9" r="1.35"/><circle cx="461.1" cy="323.46" r="1.35"/><circle cx="456.7" cy="335.03" r="1.35"/><circle cx="405.9" cy="270.6" r="1.35"/></g>
<path d="M372,321.8L505.3,285.3" stroke="#de2e2e" stroke-width="1.25" fill="none"/>
<path d="M365.8,243.7V360H512.3" stroke="#666" stroke-width="1.0" fill="none"/>
<path d="M375.2,360v-1.8M393.7,360v-1.8M412.2,360v-1.8M430.7,360v-1.8M449.2,360v-1.8M467.7,360v-1.8M486.2,360v-1.8M504.7,360v-1.8M365.8,354.85h1.8M365.8,338.33h1.8M365.8,321.81h1.8M365.8,305.29h1.8M365.8,288.77h1.8M365.8,272.25h1.8M365.8,255.73h1.8" stroke="#666" stroke-width="0.8" fill="none"/>
<g font-size="6.3" fill="#333" stroke="#333" stroke-width="0.08" text-anchor="middle"><text x="375.2" y="367">0.100</text><text x="393.7" y="367">0.125</text><text x="412.2" y="367">0.150</text><text x="430.7" y="367">0.175</text><text x="449.2" y="367">0.200</text><text x="467.7" y="367">0.225</text><text x="486.2" y="367">0.250</text><text x="504.7" y="367">0.275</text></g>
<g font-size="6.6" fill="#333" stroke="#333" stroke-width="0.08" text-anchor="end"><text x="363.8" y="357.3">0</text><text x="363.8" y="340.78">10</text><text x="363.8" y="324.26">20</text><text x="363.8" y="307.74">30</text><text x="363.8" y="291.22">40</text><text x="363.8" y="274.7">50</text><text x="363.8" y="258.18">60</text></g>
<text transform="translate(439.55,377.7) scale(1.07,1)" text-anchor="middle" font-size="8.0" fill="#1a1a1a" stroke="#1a1a1a" stroke-width="0.18">Node strength</text>
<text transform="translate(439.05,231.7) scale(0.93,1)" text-anchor="middle" font-size="8.2" fill="#2a2a2a" stroke="#2a2a2a" stroke-width="0.12" word-spacing="-0.3" style="white-space:pre">PCL  5</text>
<text transform="translate(354.5,302.95) rotate(-90) scale(0.82,1)" text-anchor="middle" font-size="7.0" fill="#444">PCL_5</text>
<path d="M547,243.7V360M565.37,243.7V360M583.74,243.7V360M602.11,243.7V360M620.48,243.7V360M638.85,243.7V360M657.22,243.7V360M675.59,243.7V360M537.5,340.47H684.8M537.5,320.15H684.8M537.5,299.82H684.8M537.5,279.5H684.8M537.5,259.17H684.8" stroke="#ededed" stroke-width="1.0" stroke-dasharray="2,1" fill="none"/>
<path d="M544,304.1 C548.33,303.85 560.33,303.73 570,302.6 C579.67,301.47 592.4,299.42 602,297.3 C611.6,295.18 619.43,292.57 627.6,289.9 C635.77,287.23 642.83,284.08 651,281.3 C659.17,278.52 672.33,274.55 676.6,273.2 L676.6,304.8 C672.33,305.33 659.17,306.93 651,308 C642.83,309.07 635.77,309.88 627.6,311.2 C619.43,312.52 611.6,314.13 602,315.9 C592.4,317.67 579.67,319.57 570,321.8 C560.33,324.03 548.33,328.05 544,329.3 Z" fill="#fae3e3"/>
<g fill="#e7ad3c"><circle cx="607.3" cy="249.01" r="1.35"/><circle cx="588.7" cy="266.28" r="1.35"/><circle cx="591.1" cy="266.28" r="1.35"/><circle cx="589.3" cy="272.38" r="1.35"/><circle cx="562.2" cy="283.56" r="1.35"/><circle cx="567.7" cy="283.56" r="1.35"/><circle cx="586.7" cy="291.69" r="1.35"/><circle cx="643.3" cy="286.61" r="1.35"/><circle cx="677" cy="291.69" r="1.35"/><circle cx="670.6" cy="297.79" r="1.35"/><circle cx="589.7" cy="303.89" r="1.35"/><circle cx="548.7" cy="313.03" r="1.35"/><circle cx="572.7" cy="314.05" r="1.35"/><circle cx="593.6" cy="312.02" r="1.35"/><circle cx="608.6" cy="308.97" r="1.35"/><circle cx="612.8" cy="308.97" r="1.35"/><circle cx="613.8" cy="312.02" r="1.35"/><circle cx="616.3" cy="312.02" r="1.35"/><circle cx="555.6" cy="318.12" r="1.35"/><circle cx="543.9" cy="320.15" r="1.35"/><circle cx="593.4" cy="320.15" r="1.35"/><circle cx="554.7" cy="326.25" r="1.35"/><circle cx="577.9" cy="325.23" r="1.35"/><circle cx="558.2" cy="329.29" r="1.35"/><circle cx="567.5" cy="329.29" r="1.35"/><circle cx="579" cy="330.31" r="1.35"/><circle cx="563.7" cy="354.7" r="1.35"/><circle cx="582" cy="354.7" r="1.35"/><circle cx="628.4" cy="312.02" r="1.35"/><circle cx="632.7" cy="311" r="1.35"/><circle cx="640.2" cy="330.31" r="1.35"/><circle cx="577.4" cy="325.23" r="1.35"/></g>
<path d="M543.4,317.4L676.9,291.7" stroke="#de2e2e" stroke-width="1.25" fill="none"/>
<path d="M537.5,243.7V360H684.8" stroke="#666" stroke-width="1.0" fill="none"/>
<path d="M547,360v-1.8M565.37,360v-1.8M583.74,360v-1.8M602.11,360v-1.8M620.48,360v-1.8M638.85,360v-1.8M657.22,360v-1.8M675.59,360v-1.8M537.5,340.47h1.8M537.5,320.15h1.8M537.5,299.82h1.8M537.5,279.5h1.8M537.5,259.17h1.8" stroke="#666" stroke-width="0.8" fill="none"/>
<g font-size="6.3" fill="#333" stroke="#333" stroke-width="0.08" text-anchor="middle"><text x="547" y="367">0.100</text><text x="565.37" y="367">0.125</text><text x="583.74" y="367">0.150</text><text x="602.11" y="367">0.175</text><text x="620.48" y="367">0.200</text><text x="638.85" y="367">0.225</text><text x="657.22" y="367">0.250</text><text x="675.59" y="367">0.275</text></g>
<g font-size="6.6" fill="#333" stroke="#333" stroke-width="0.08" text-anchor="end"><text x="535.5" y="342.92">20</text><text x="535.5" y="322.6">40</text><text x="535.5" y="302.27">60</text><text x="535.5" y="281.95">80</text><text x="535.5" y="261.62">100</text></g>
<text transform="translate(612.95,377.7) scale(1.07,1)" text-anchor="middle" font-size="8.0" fill="#1a1a1a" stroke="#1a1a1a" stroke-width="0.18">Node strength</text>
<text transform="translate(611.15,231.7) scale(0.93,1)" text-anchor="middle" font-size="8.2" fill="#2a2a2a" stroke="#2a2a2a" stroke-width="0.12" word-spacing="-0.3" style="white-space:pre">PTSD  E</text>
<text transform="translate(610.7,240.9) scale(1.08,1)" text-anchor="middle" font-size="7.7" font-weight="bold" fill="#111">r<tspan font-size="5.24" dy="2.1">s</tspan><tspan dy="-2.1">=0.38, p=0.033</tspan></text>
<text transform="translate(522.3,302.95) rotate(-90) scale(0.82,1)" text-anchor="middle" font-size="7.0" fill="#444">PTSD_E</text>
<circle cx="261.4" cy="46.4" r="0.75" fill="#c4c4c4"/><circle cx="433.1" cy="46.4" r="0.7" fill="#ececec"/><circle cx="476.4" cy="240.4" r="0.8" fill="#8a8a8a"/>
<path d="M99.2,233.1H104M272.4,233.3H276.8M441.3,233.2H445.1" stroke="#e6e6e6" stroke-width="0.8"/>
</svg>
</body></html>
